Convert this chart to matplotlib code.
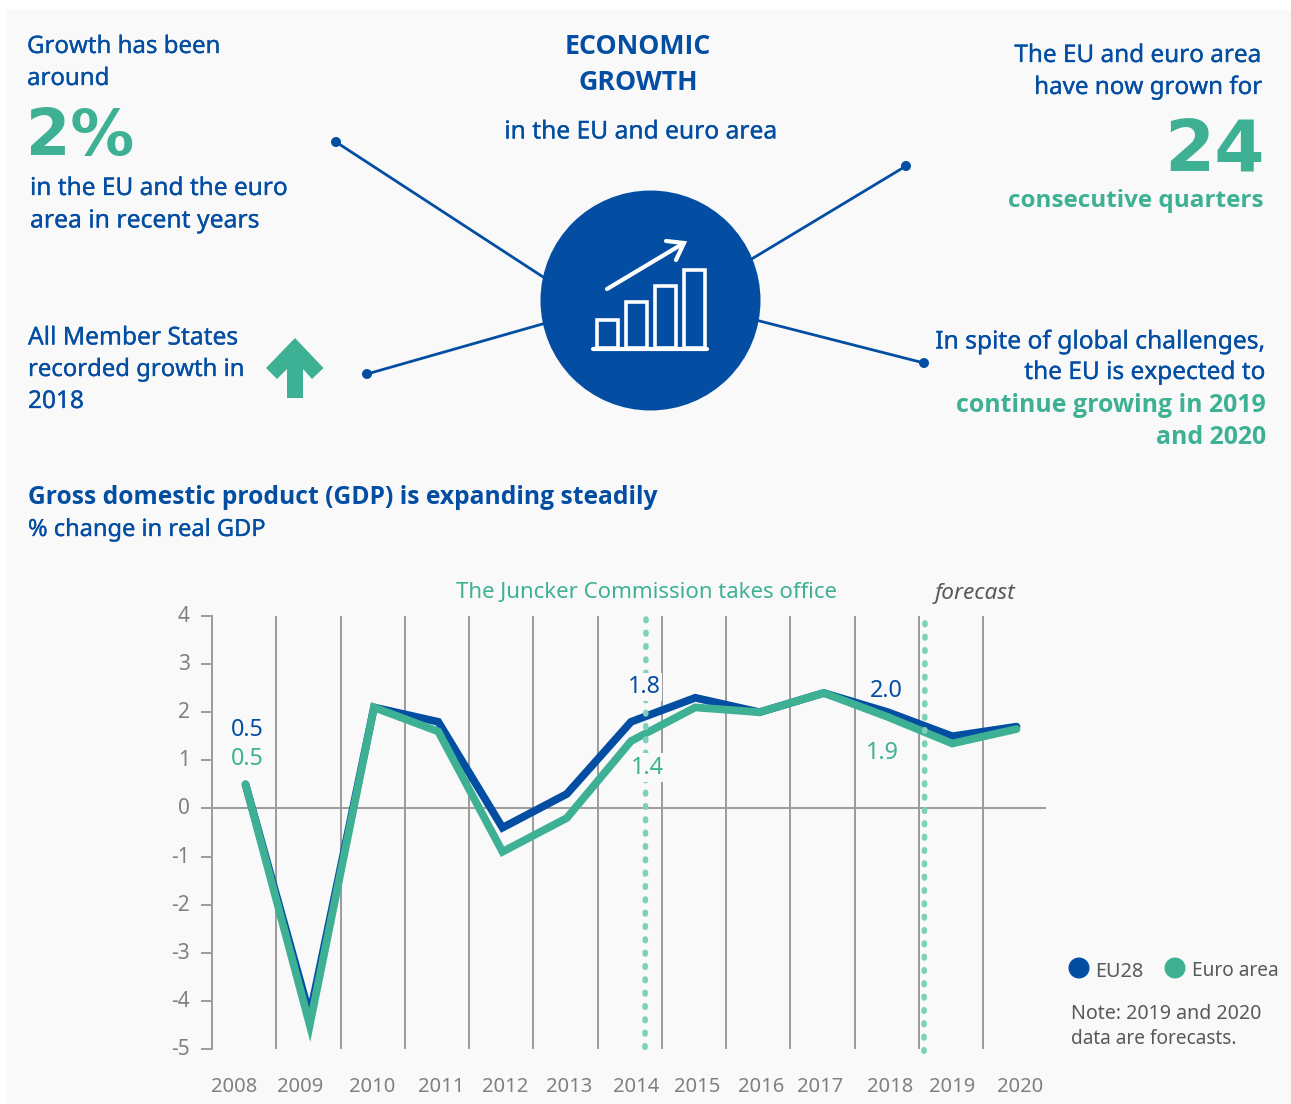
import matplotlib
matplotlib.use("Agg")
import matplotlib.pyplot as plt
import matplotlib.patheffects as pe
from matplotlib.patches import Circle, Rectangle, Polygon
from matplotlib.transforms import ScaledTranslation

years = [2008, 2009, 2010, 2011, 2012, 2013, 2014, 2015, 2016, 2017, 2018, 2019, 2020]
eu28 = [0.5, -4.3, 2.1, 1.8, -0.4, 0.3, 1.8, 2.3, 2.0, 2.4, 2.0, 1.5, 1.7]
euro_area = [0.5, -4.5, 2.1, 1.6, -0.9, -0.2, 1.4, 2.1, 2.0, 2.4, 1.9, 1.35, 1.65]
y_ticks = [4, 3, 2, 1, 0, -1, -2, -3, -4, -5]
year_label_px = [234, 300, 372, 441, 505, 569, 636, 697, 761, 820, 890, 952, 1020]

W, H = 1291, 1104
BLUE = "#034ea2"
GREEN = "#3eb194"
DOT = "#7dd0b9"
GRID = "#9b9b9b"
TICK = "#808080"
BG = "#f9f9f9"
FONT = ["Noto Sans", "DejaVu Sans"]
plt.rcParams["font.family"] = FONT

fig = plt.figure(figsize=(W / 100, H / 100), dpi=100, facecolor="white")

# overlay in pixel coordinates
ov = fig.add_axes([0, 0, 1, 1], zorder=0)
ov.set_xlim(0, W)
ov.set_ylim(H, 0)
ov.axis("off")
ov.add_patch(Rectangle((7, 10), W - 7, H - 10, fc=BG, ec="none"))


def T(x, y, s, c=BLUE, fs=17.6, ha="left", w="normal", fam=None, **kw):
    if w == "bold":
        kw["family"] = fam or "Open Sans"
    t = ov.text(x, y, s, color=c, fontsize=fs, ha=ha, va="center", fontweight=w, **kw)
    if w != "bold" and c == BLUE:
        t.set_path_effects([pe.withStroke(linewidth=0.2, foreground=c)])


# connector lines
for (x, y, xe, ye) in [(336, 142, 560, 288), (906, 166, 740, 266), (367, 374, 560, 319), (924, 363, 740, 316)]:
    ov.plot([x, xe], [y, ye], color=BLUE, lw=2, zorder=1)
    ov.add_patch(Circle((x, y), 5, fc=BLUE, ec="none", zorder=2))
ov.add_patch(Circle((650.5, 300.5), 110, fc=BLUE, ec="none", zorder=3))

# icon
for (x0, top) in [(597, 320), (626, 302), (655, 286), (684, 270)]:
    ov.add_patch(Rectangle((x0, top), 21, 348 - top, fc="none", ec="white", lw=2.6, zorder=4))
ov.plot([593, 707], [348.5, 348.5], color="white", lw=3, solid_capstyle="round", zorder=4)
ov.plot([607, 684], [289, 243], color="white", lw=3, solid_capstyle="round", zorder=4)
ov.plot([666, 684, 676], [241, 243, 260], color="white", lw=3, solid_capstyle="round",
        solid_joinstyle="miter", zorder=4)

# up arrow
ov.add_patch(Polygon([(295, 338), (323.5, 368), (312, 379), (303, 369), (303, 398), (287, 398),
                      (287, 369), (277, 379), (266, 368)], fc=GREEN, ec="none"))

# infographic text
T(27, 47, "Growth has been", fs=17.3)
T(27, 79, "around", fs=17.3)
T(26, 137, "2%", c=GREEN, fs=46, w="bold", fam="DejaVu Sans")
T(30, 189, "in the EU and the euro", fs=17.6)
T(30, 221, "area in recent years", fs=17.8)
T(638, 47, "ECONOMIC", fs=19.3, ha="center", w="bold")
T(638, 83, "GROWTH", fs=19.3, ha="center", w="bold")
T(641, 132, "in the EU and euro area", ha="center", fs=17.7)
T(1262, 56, "The EU and euro area", ha="right", fs=17.5)
T(1262, 88, "have now grown for", ha="right", fs=17.4)
T(1265, 152, "24", c=GREEN, fs=52, ha="right", w="bold", fam="DejaVu Sans")
T(1263, 201, "consecutive quarters", c=GREEN, ha="right", w="bold", fs=17.5)
T(28, 338, "All Member States", fs=17.7)
T(28, 370, "recorded growth in", fs=17.2)
T(28, 402, "2018", fs=17.6)
T(1266, 342, "In spite of global challenges,", ha="right", fs=17.7)
T(1266, 373, "the EU is expected to", ha="right", fs=17.6)
T(1266, 405, "continue growing in 2019", c=GREEN, ha="right", w="bold", fs=17.9)
T(1266, 437, "and 2020", c=GREEN, ha="right", w="bold", fs=17.9)
T(28, 497, "Gross domestic product (GDP) is expanding steadily", w="bold", fs=17.75)
T(28, 530, "% change in real GDP", fs=17)
T(647, 593, "The Juncker Commission takes office", c=GREEN, fs=16, ha="center")
T(975, 593, "forecast", c="#595959", fs=16.3, ha="center", style="italic")

# legend and note
ov.add_patch(Circle((1079, 968), 10.5, fc=BLUE, ec="none"))
ov.add_patch(Circle((1175, 968), 10.5, fc=GREEN, ec="none"))
T(1095, 972, "EU28", c="#595959", fs=14.3)
T(1192, 971, "Euro area", c="#595959", fs=13.7)
T(1071, 1014, "Note: 2019 and 2020", c="#595959", fs=14.1)
T(1071, 1039, "data are forecasts.", c="#595959", fs=13.7)

# chart axes
L, R, TOP, BOT = 212, 1046, 616, 1049
ax = fig.add_axes([L / W, 1 - BOT / H, (R - L) / W, (BOT - TOP) / H], zorder=2)
ax.patch.set_alpha(0)
x0_px, step = 245.5, 64.25
px2x = lambda p: (p - x0_px) / step
xs = list(range(len(years)))
ax.set_xlim(px2x(L), px2x(R))
ax.set_ylim(-5, 4)
for s in ("top", "right", "bottom"):
    ax.spines[s].set_visible(False)
ax.spines["left"].set_color(GRID)
ax.spines["left"].set_linewidth(1.4)
ax.set_yticks(y_ticks)
ax.set_yticklabels([str(v) for v in y_ticks])
ax.tick_params(axis="y", length=8, width=1.4, color=GRID, labelcolor=TICK, labelsize=15, pad=8)
shift = ScaledTranslation(0, 2 / 100, fig.dpi_scale_trans)
for lab in ax.get_yticklabels():
    lab.set_transform(lab.get_transform() + shift)
ax.set_xticks([px2x(p) for p in year_label_px])
ax.set_xticklabels([str(v) for v in years])
ax.tick_params(axis="x", length=0, labelcolor=TICK, labelsize=14.5, pad=20.4)
for k in xs[:-1]:
    ax.axvline(k + 0.48, color=GRID, lw=1.4, zorder=1)
ax.axhline(0, color=GRID, lw=1.4, zorder=1)

ax.plot(xs, eu28, color=BLUE, lw=5.6, solid_joinstyle="miter", solid_capstyle="round", zorder=3, label="EU28")
ax.plot(xs, euro_area, color=GREEN, lw=5.6, solid_joinstyle="miter", solid_capstyle="round", zorder=4, label="Euro area")


def V(k, y, s, c, box=False):
    kw = dict(bbox=dict(fc=BG, ec="none", pad=1.5)) if box else {}
    ax.text(k, y, s, color=c, fontsize=16.8, ha="center", va="center", zorder=5, **kw)


# dotted reference lines
for xa, xb, ya, yb in [(646, 645, 619, 1050), (925, 924, 623, 1052)]:
    ov2x = [px2x(xa), px2x(xb)]
    ov2y = [4 - (ya - TOP) / 48.11, 4 - (yb - TOP) / 48.11]
    ax.plot(ov2x, ov2y, color=DOT, lw=4.0, ls=(0, (0.3, 2.1)), dash_capstyle="round", zorder=4.5, clip_on=False)

V(0.03, 1.63, "0.5", BLUE)
V(0.03, 1.03, "0.5", GREEN)
V(6.2, 2.53, "1.8", BLUE, box=True)
V(6.26, 0.85, "1.4", GREEN, box=True)
V(9.97, 2.45, "2.0", BLUE)
V(9.92, 1.15, "1.9", GREEN)

fig.savefig("out.png", dpi=100, facecolor="white")
